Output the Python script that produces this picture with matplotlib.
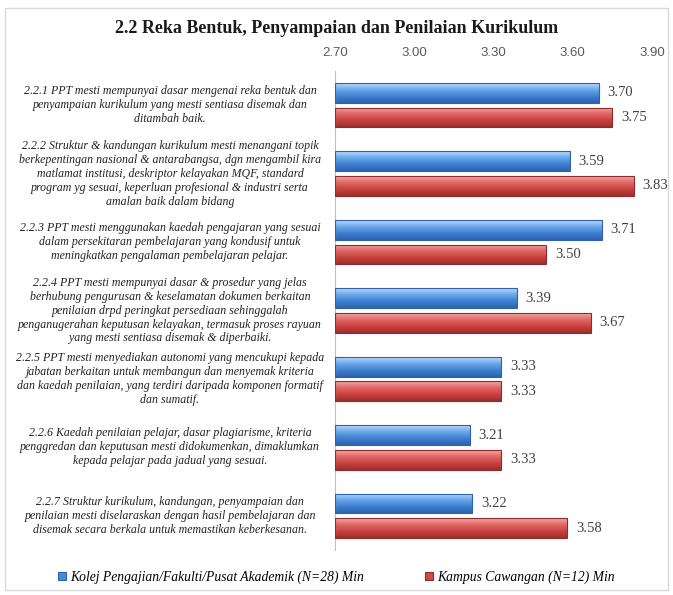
import matplotlib.pyplot as plt
from matplotlib.patches import Rectangle
from matplotlib.colors import LinearSegmentedColormap
from matplotlib.transforms import blended_transform_factory
import numpy as np

# data
labels = [
    "2.2.1 PPT mesti mempunyai dasar mengenai reka bentuk dan\npenyampaian kurikulum yang mesti sentiasa disemak dan\nditambah baik.",
    "2.2.2 Struktur & kandungan kurikulum mesti menangani topik\nberkepentingan nasional & antarabangsa, dgn mengambil kira\nmatlamat institusi, deskriptor kelayakan MQF, standard\nprogram yg sesuai, keperluan profesional & industri serta\namalan baik dalam bidang",
    "2.2.3 PPT mesti menggunakan kaedah pengajaran yang sesuai\ndalam persekitaran pembelajaran yang kondusif untuk\nmeningkatkan pengalaman pembelajaran pelajar.",
    "2.2.4 PPT mesti mempunyai dasar & prosedur yang jelas\nberhubung pengurusan & keselamatan dokumen berkaitan\npenilaian drpd peringkat persediaan sehinggalah\npenganugerahan keputusan kelayakan, termasuk proses rayuan\nyang mesti sentiasa disemak & diperbaiki.",
    "2.2.5 PPT mesti menyediakan autonomi yang mencukupi kepada\njabatan berkaitan untuk membangun dan menyemak kriteria\ndan kaedah penilaian, yang terdiri daripada komponen formatif\ndan sumatif.",
    "2.2.6 Kaedah penilaian pelajar, dasar plagiarisme, kriteria\npenggredan dan keputusan mesti didokumenkan, dimaklumkan\nkepada pelajar pada jadual yang sesuai.",
    "2.2.7 Struktur kurikulum, kandungan, penyampaian dan\npenilaian mesti diselaraskan dengan hasil pembelajaran dan\ndisemak secara berkala untuk memastikan keberkesanan.",
]
kolej = [3.70, 3.59, 3.71, 3.39, 3.33, 3.21, 3.22]
kampus = [3.75, 3.83, 3.50, 3.67, 3.33, 3.33, 3.58]
ticks = [2.70, 3.00, 3.30, 3.60, 3.90]

fig = plt.figure(figsize=(6.73, 5.95), dpi=100)
ax = fig.add_axes([0.4978, 0.0756, 0.4710, 0.8050])

# light frame around the whole chart
fig.patches.append(Rectangle((0.008, 0.008), 0.984, 0.978, transform=fig.transFigure,
                             fill=False, edgecolor='#d9d9d9', linewidth=1))

y = np.arange(len(labels))
h = 0.29
off = 0.18
bars_k = ax.barh(y - off, [v - 2.70 for v in kolej], height=h, left=2.70, color='#4a8ad6',
                 edgecolor='#2f62a8', linewidth=0.8,
                 label='Kolej Pengajian/Fakulti/Pusat Akademik (N=28) Min')
bars_c = ax.barh(y + off, [v - 2.70 for v in kampus], height=h, left=2.70, color='#cc4a48',
                 edgecolor='#8f2b2a', linewidth=0.8, label='Kampus Cawangan (N=12) Min')

# glossy vertical gradient inside each bar
cm_blue = LinearSegmentedColormap.from_list('b', ['#b9dcfb', '#6aa6ea', '#3d7fd2', '#2d63ad'])
cm_red = LinearSegmentedColormap.from_list('r', ['#f4a9a7', '#e06663', '#c9413f', '#9e2e2c'])
grad = np.linspace(0, 1, 64).reshape(-1, 1)
for bars, cm in [(bars_k, cm_blue), (bars_c, cm_red)]:
    for b in bars:
        x0, y0 = b.get_x(), b.get_y()
        im = ax.imshow(grad, cmap=cm, aspect='auto', interpolation='bicubic',
                       extent=(x0, x0 + b.get_width(), y0 + b.get_height(), y0), zorder=2)
        im.set_clip_path(b)
    for b in bars:
        b.set_zorder(3)
        b.set_facecolor('none')

lab_tr = blended_transform_factory(fig.transFigure, ax.transData)
for i in range(len(labels)):
    ax.text(kolej[i] + 0.032, y[i] - off, f"{kolej[i]:.2f}", va='center', ha='left',
            fontsize=10.5, family='Liberation Serif', color='#404040')
    ax.text(kampus[i] + 0.032, y[i] + off, f"{kampus[i]:.2f}", va='center', ha='left',
            fontsize=10.5, family='Liberation Serif', color='#404040')
    ax.text(0.2526, y[i], labels[i], transform=lab_tr,
            ha='center', va='center', fontsize=8.6, family='Liberation Serif', style='italic',
            color='#222222', linespacing=1.22)

ax.set_xlim(2.70, 3.90)
ax.set_ylim(6.5, -0.5)
ax.set_xticks(ticks)
ax.set_xticklabels([f"{t:.2f}" for t in ticks], family='Liberation Sans', fontsize=9.5, color='#595959')
ax.xaxis.tick_top()
ax.tick_params(axis='x', length=0, pad=9)
ax.set_yticks([])
for s in ['top', 'right', 'bottom']:
    ax.spines[s].set_visible(False)
ax.spines['left'].set_color('#bfbfbf')

fig.text(0.5, 0.952, "2.2 Reka Bentuk, Penyampaian dan Penilaian Kurikulum", ha='center', va='center',
         fontsize=13, fontweight='bold', family='Liberation Serif', color='#1a1a1a')

leg = fig.legend(loc='center', bbox_to_anchor=(0.5, 0.03), ncol=2, frameon=False,
                 handlelength=0.6, handleheight=0.6, columnspacing=4.5, handletextpad=0.3,
                 prop={'family': 'Liberation Serif', 'style': 'italic', 'size': 9.8})
leg.legend_handles[0].set_facecolor('#4a8ad6')
leg.legend_handles[1].set_facecolor('#cc4a48')

fig.savefig('out.png', dpi=100)
